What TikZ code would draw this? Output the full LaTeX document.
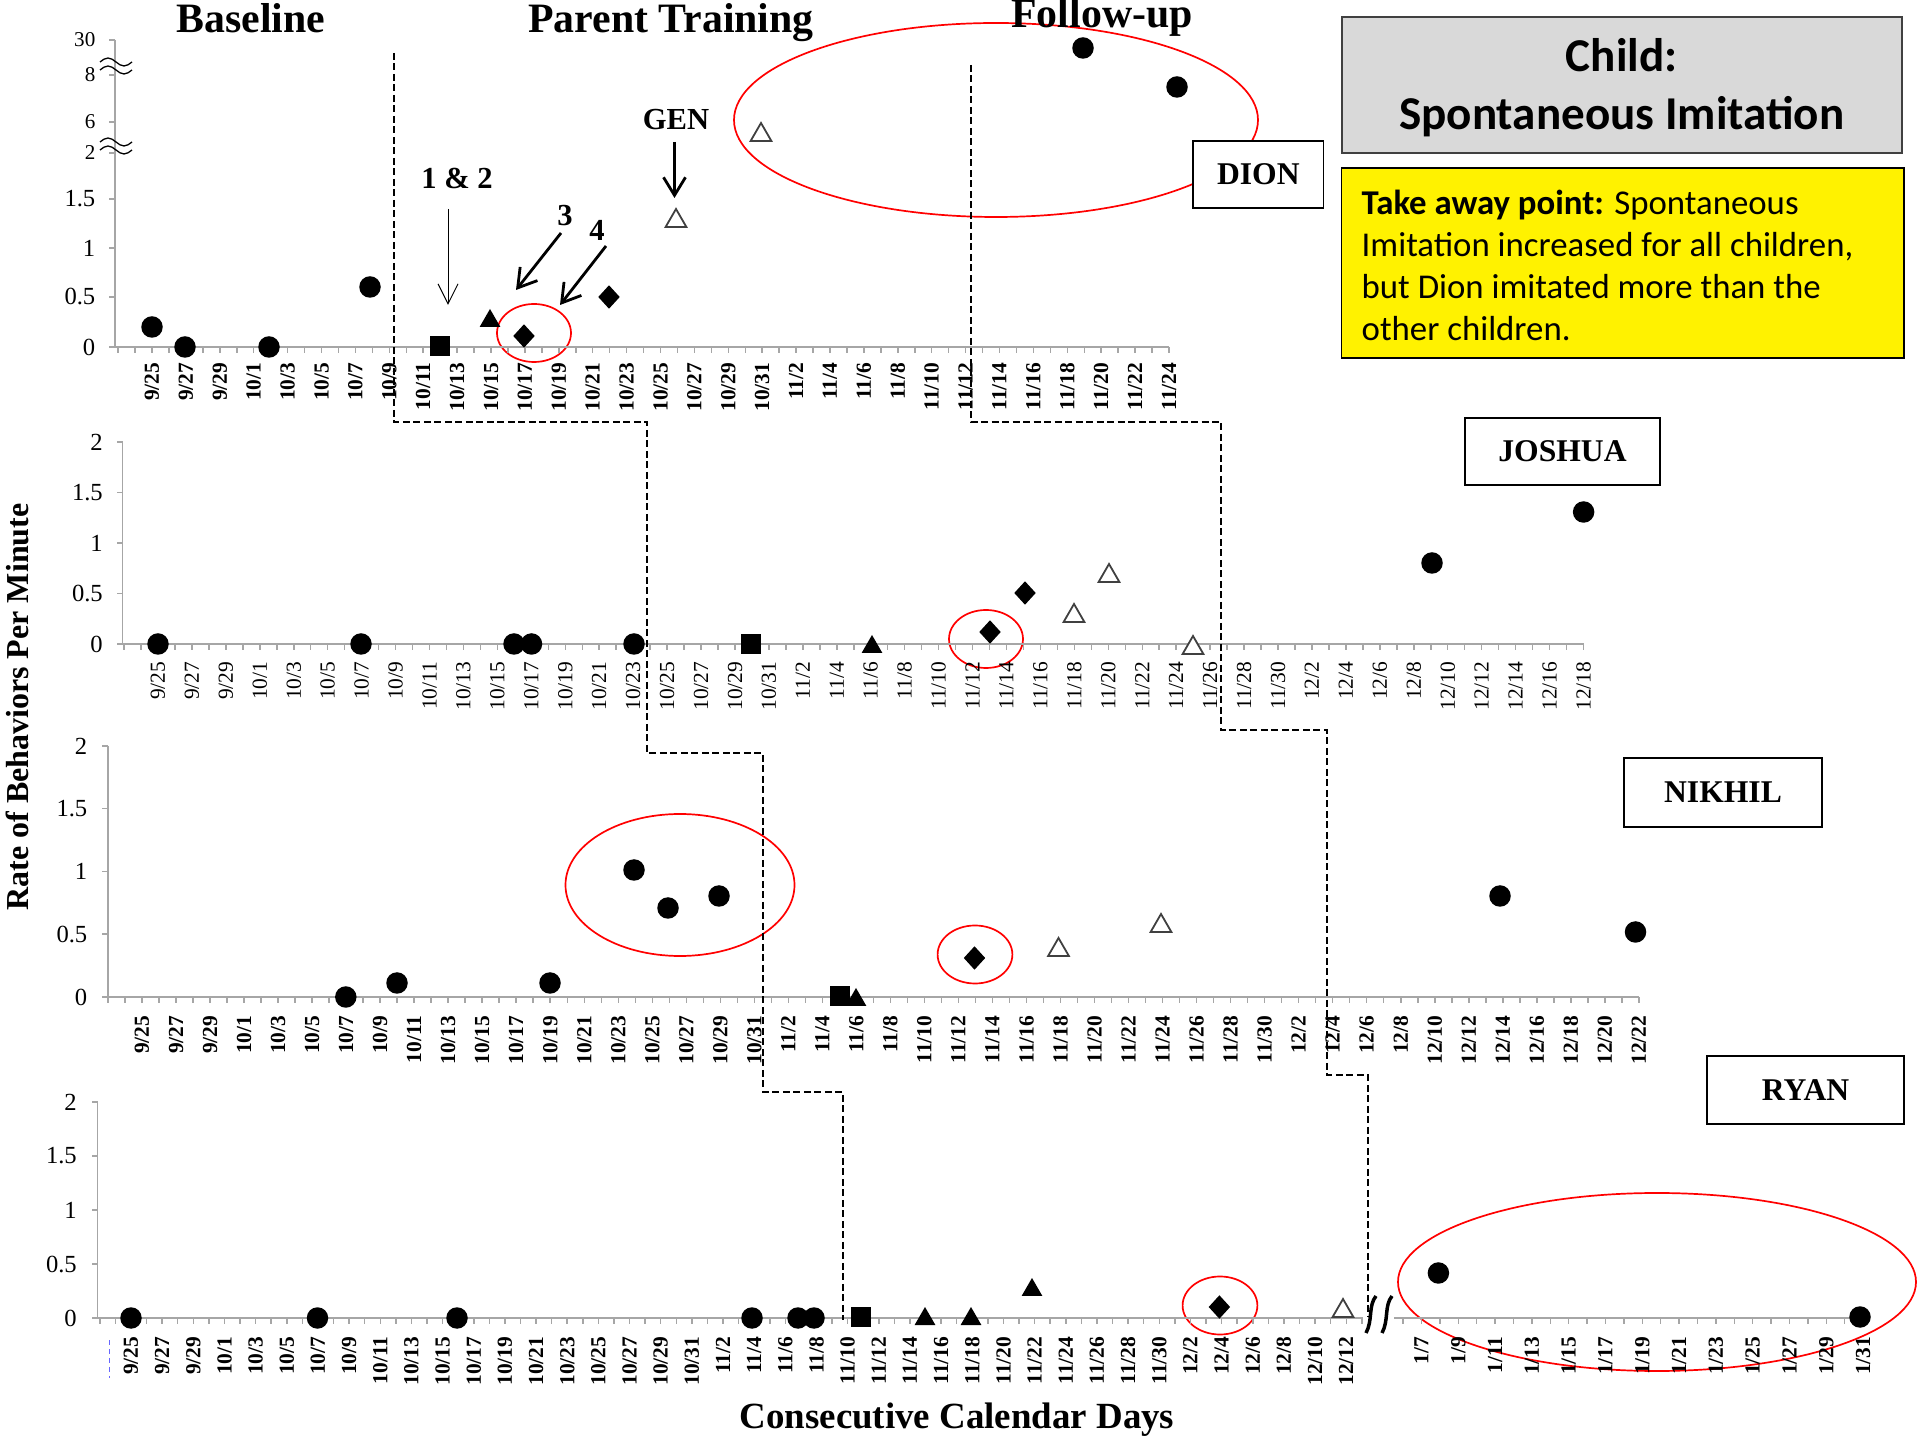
\documentclass[tikz,border=0pt]{standalone}
\usepackage{fontspec}
\setmainfont{Liberation Serif}
\newfontfamily\calib{Carlito}
\usetikzlibrary{shapes.geometric,arrows.meta,calc}

% day index (0 = 9/25) -> month/day text
\newcommand\mkdate[1]{%
  \pgfmathtruncatemacro\dnum{25+#1}%
  \ifnum\dnum<31 9/\dnum%
  \else\pgfmathtruncatemacro\dnum{\dnum-30}%
    \ifnum\dnum<32 10/\dnum%
    \else\pgfmathtruncatemacro\dnum{\dnum-31}%
      \ifnum\dnum<31 11/\dnum%
      \else\pgfmathtruncatemacro\dnum{\dnum-30}12/\dnum%
      \fi
    \fi
  \fi}

\tikzset{
  dot/.style={circle,fill=black,inner sep=0,minimum size=2.15mm},
  sqr/.style={rectangle,fill=black,inner sep=0,minimum size=2.0mm},
  dia/.style={diamond,fill=black,inner sep=0,minimum width=2.2mm,minimum height=2.4mm},
  ftri/.style={regular polygon,regular polygon sides=3,fill=black,inner sep=0,minimum size=2.4mm,yshift=-0.3mm},
  otri/.style={regular polygon,regular polygon sides=3,draw=black!75,line width=0.18mm,fill=white,inner sep=0,minimum size=2.4mm,yshift=-0.3mm},
  axisline/.style={draw=black!35,line width=0.15mm},
  phase/.style={draw=black,line width=0.2mm,dash pattern=on 0.7mm off 0.35mm},
  ring/.style={draw=red,line width=0.17mm},
  namebox/.style={draw=black,line width=0.16mm,fill=white,inner sep=0,font=\bfseries\fontsize{9}{10}\selectfont},
  ticklbl/.style={rotate=90,anchor=east,inner sep=0,font=\fontsize{6.1}{7}\selectfont},
  ticklblb/.style={rotate=90,anchor=east,inner sep=0,font=\bfseries\fontsize{6.1}{7}\selectfont},
  ylbl/.style={anchor=east,inner sep=0,font=\fontsize{7}{8}\selectfont},
  ylbls/.style={anchor=east,inner sep=0,font=\fontsize{6}{7}\selectfont},
  phasetitle/.style={anchor=base,inner sep=0,font=\bfseries\fontsize{11.9}{13}\selectfont},
  arrlbl/.style={inner sep=0,font=\bfseries\fontsize{8.7}{10}\selectfont},
  thinarrow/.style={line width=0.1mm,-{Straight Barb[length=2.0mm,width=2.0mm]}},
  thickarrow/.style={line width=0.28mm,-{Straight Barb[length=1.8mm,width=2.2mm]}},
}

\begin{document}
\begin{tikzpicture}[x=0.1mm,y=-0.1mm]
\fill[white] (0,0) rectangle (1917,1440);
\useasboundingbox (0,0) rectangle (1917,1440);

% ---------- phase titles ----------
\node[phasetitle] (tbase) at (251,33) {Baseline};
\node[phasetitle] (tpt) at (671,33) {Parent Training};

% ---------- red emphasis rings ----------
\draw[ring] (996,120) ellipse [x radius=262,y radius=97];
\draw[ring] (534,333) ellipse [x radius=37,y radius=29];
\draw[ring] (986,639) ellipse [x radius=37,y radius=29];
\draw[ring] (680,885) ellipse [x radius=114.5,y radius=71];
\draw[ring] (975,954.5) ellipse [x radius=37.4,y radius=29];
\draw[ring] (1220,1305.5) ellipse [x radius=37.4,y radius=29];
\draw[ring] (1657,1282) ellipse [x radius=259,y radius=89];

\node[phasetitle] (tfu) at (1102,28) {Follow-up};

% ================= panel 1 : DION =================
\draw[axisline] (115,40) -- (115,347) -- (1169,347);
\foreach \i in {-2,...,60} \draw[axisline] ({152+16.95*\i},347) -- ++(0,6);
\foreach \yy in {347,297,248,199,153,122,75,40} \draw[axisline] (115,\yy) -- ++(-6,0);
\foreach \i in {0,2,...,60} \node[ticklblb] (pa\i) at ({152+16.95*\i},362) {\mkdate{\i}};
\foreach \yy/\t [count=\k] in {347/0,297/0.5,248/1,199/1.5} \node[ylbl] (ya\k) at (96,\yy) {\t};
\foreach \yy/\t [count=\k] in {153/2,122/6,75/8,40/30} \node[ylbls] (yb\k) at (96,\yy) {\t};
% axis breaks
\foreach \c in {66,146} {
  \draw[line width=0.13mm] (100,\c-4) sin (108,\c-8) cos (116,\c-4) sin (124,\c) cos (132,\c-4);
  \draw[line width=0.13mm] (100,\c+4) sin (108,\c) cos (116,\c+4) sin (124,\c+8) cos (132,\c+4);
}
\node[dot] (d1a) at (152,327) {};
\node[dot] (d1b) at (185,347) {};
\node[dot] (d1c) at (269,347) {};
\node[dot] (d1d) at (370,287) {};
\node[sqr] (d1e) at (440,346) {};
\node[ftri] (d1f) at (490,318) {};
\node[dia] (d1g) at (524,336) {};
\node[dia] (d1h) at (609,297) {};
\node[otri] (d1i) at (676,218) {};
\node[otri] (d1j) at (761,132) {};
\node[dot] (d1k) at (1083,48) {};
\node[dot] (d1l) at (1177,87) {};

% session markers
\node[arrlbl] (n12) at (457,178) {1 \& 2};
\coordinate (a12s) at (448,209); \coordinate (a12e) at (448,305);
\draw[thinarrow] (a12s) -- (a12e);
\node[arrlbl] (n3) at (565,216) {3};
\coordinate (a3s) at (561,233); \coordinate (a3e) at (516,290);
\draw[thickarrow] (a3s) -- (a3e);
\node[arrlbl] (n4) at (597,230) {4};
\coordinate (a4s) at (606,246); \coordinate (a4e) at (560,305);
\draw[thickarrow] (a4s) -- (a4e);
\node[arrlbl] (ngen) at (676,120) {GEN};
\coordinate (ags) at (674.5,142); \coordinate (age) at (674.5,198);
\draw[thickarrow] (ags) -- (age);

% ================= panel 2 : JOSHUA =================
\draw[axisline] (122.5,442) -- (122.5,644) -- (1583.6,644);
\foreach \i in {-2,...,84} \draw[axisline] ({158+16.97*\i},644) -- ++(0,6);
\foreach \yy in {644,593.5,543,492.5,442} \draw[axisline] (122.5,\yy) -- ++(-6,0);
\foreach \i in {0,2,...,84} \node[ticklbl] (pb\i) at ({158+16.97*\i},661) {\mkdate{\i}};
\foreach \yy/\t [count=\k] in {644/0,593.5/0.5,543/1,492.5/1.5,442/2} \node[ylbl] (yc\k) at (103.5,\yy) {\t};
\node[dot] (d2a) at (158,644) {};
\node[dot] (d2b) at (361,644) {};
\node[dot] (d2c) at (514,644) {};
\node[dot] (d2d) at (531.5,644) {};
\node[dot] (d2e) at (634,644) {};
\node[sqr] (d2f) at (751,644) {};
\node[ftri] (d2g) at (872,644) {};
\node[dia] (d2h) at (990,632) {};
\node[dia] (d2i) at (1025,593) {};
\node[otri] (d2j) at (1074,613) {};
\node[otri] (d2k) at (1109,573) {};
\node[otri] (d2l) at (1193,645) {};
\node[dot] (d2m) at (1432,563) {};
\node[dot] (d2n) at (1583.6,512) {};

% ================= panel 3 : NIKHIL =================
\draw[axisline] (108,746) -- (108,997) -- (1639,997);
\foreach \i in {-2,...,88} \draw[axisline] ({142+17.01*\i},997) -- ++(0,6);
\foreach \yy in {997,934.25,871.5,808.75,746} \draw[axisline] (108,\yy) -- ++(-6,0);
\foreach \i in {0,2,...,88} \node[ticklblb] (pc\i) at ({142+17.01*\i},1015) {\mkdate{\i}};
\foreach \yy/\t [count=\k] in {997/0,934.25/0.5,871.5/1,808.75/1.5,746/2} \node[ylbl] (yd\k) at (88,\yy) {\t};
\node[dot] (d3a) at (345.8,997) {};
\node[dot] (d3b) at (397,983) {};
\node[dot] (d3c) at (550,983) {};
\node[dot] (d3d) at (634,870) {};
\node[dot] (d3e) at (668,908) {};
\node[dot] (d3f) at (719,896) {};
\node[sqr] (d3g) at (840,996) {};
\node[ftri] (d3h) at (856,997) {};
\node[dia] (d3i) at (974.5,958) {};
\node[otri] (d3j) at (1058.5,947) {};
\node[otri] (d3k) at (1161,923) {};
\node[dot] (d3l) at (1500,896) {};
\node[dot] (d3m) at (1635.5,932) {};

% ================= panel 4 : RYAN =================
\draw[axisline] (97.6,1102) -- (97.6,1318) -- (1363,1318);
\draw[axisline] (1394,1318) -- (1864,1318);
\foreach \i in {-2,...,79} \draw[axisline] ({131+15.58*\i},1318) -- ++(0,6);
\foreach \j in {-1,...,24} \draw[axisline] ({1421.5+18.4*\j},1318) -- ++(0,6);
\foreach \yy in {1318,1264,1210,1156,1102} \draw[axisline] (97.6,\yy) -- ++(-6,0);
\foreach \i in {0,2,...,78} \node[ticklblb] (pd\i) at ({131+15.58*\i},1336) {\mkdate{\i}};
\foreach \j in {0,2,...,24} {
  \pgfmathtruncatemacro\jd{7+\j}
  \node[ticklblb] (pe\j) at ({1421.5+18.4*\j},1336) {1/\jd};
}
\foreach \yy/\t [count=\k] in {1318/0,1264/0.5,1210/1,1156/1.5,1102/2} \node[ylbl] (ye\k) at (77.5,\yy) {\t};
\draw[blue!60,line width=0.1mm,dash pattern=on 0.5mm off 0.4mm] (109,1340) -- (109,1378);
% axis break
\draw[line width=0.35mm] (1366,1333) .. controls (1373,1320) and (1368,1306) .. (1376,1296);
\draw[line width=0.35mm] (1382,1333) .. controls (1389,1320) and (1384,1306) .. (1392,1296);
\node[dot] (d4a) at (131,1318) {};
\node[dot] (d4b) at (317.5,1318) {};
\node[dot] (d4c) at (457,1318) {};
\node[dot] (d4d) at (752,1318) {};
\node[dot] (d4e) at (798,1318) {};
\node[dot] (d4f) at (814,1318) {};
\node[sqr] (d4g) at (861,1317) {};
\node[ftri] (d4h) at (925,1316) {};
\node[ftri] (d4i) at (971,1316) {};
\node[ftri] (d4j) at (1032,1287) {};
\node[dia] (d4k) at (1219.4,1307) {};
\node[otri] (d4l) at (1343,1308) {};
\node[dot] (d4m) at (1438.4,1273) {};
\node[dot] (d4n) at (1860,1317) {};

% ---------- phase change lines ----------
\draw[phase] (394,53) -- (394,422) -- (647,422) -- (647,753) -- (763,753) -- (763,1092) -- (843,1092) -- (843,1320);
\draw[phase] (970.5,65) -- (970.5,422) -- (1221,422) -- (1221,730) -- (1327,730) -- (1327,1075) -- (1368,1075) -- (1368,1317);

% ---------- child name boxes ----------
\node[namebox,minimum width=13.06mm,minimum height=6.7mm] (bdion) at (1258.3,174.5) {DION};
\node[namebox,minimum width=19.5mm,minimum height=6.7mm] (bjosh) at (1562.5,451.5) {JOSHUA};
\node[namebox,minimum width=19.8mm,minimum height=6.9mm] (bnik) at (1723,792.5) {NIKHIL};
\node[namebox,minimum width=19.7mm,minimum height=6.8mm] (bryan) at (1805.5,1090) {RYAN};

% ---------- headline and summary ----------
\node[draw=black!75,line width=0.2mm,fill=black!15,minimum width=56.05mm,minimum height=13.6mm,inner sep=0] (head) at (1621.75,85) {};
\node[inner sep=0,align=center,font=\calib\bfseries\fontsize{13.4}{16.5}\selectfont] (headtxt) at (1621.75,88)
      {Child:\\Spontaneous Imitation};
\node[draw=black,line width=0.18mm,fill=yellow,minimum width=56.25mm,minimum height=19mm,inner sep=0] (take) at (1622.75,263) {};
\node[anchor=base west,inner sep=0,align=left,font=\calib\fontsize{9.9}{12}\selectfont] (taketxt) at (1361,341)
  {\textbf{Take away point:} Spontaneous\\Imitation increased for all children,\\but Dion imitated more than the\\other children.};

% ---------- axis titles ----------
\node[rotate=90,inner sep=0,font=\bfseries\fontsize{9.1}{10}\selectfont] (ytitle) at (17,707) {Rate of Behaviors Per Minute};
\node[anchor=base,inner sep=0,font=\bfseries\fontsize{10.5}{12}\selectfont] (xtitle) at (957,1428) {Consecutive Calendar Days};
\end{tikzpicture}
\end{document}
